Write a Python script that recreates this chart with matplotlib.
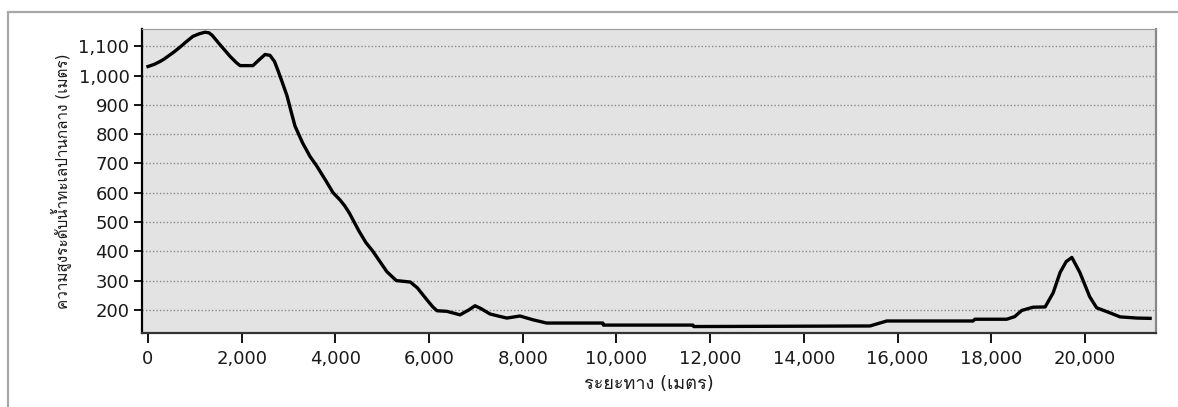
import matplotlib
matplotlib.use("Agg")
import matplotlib.pyplot as plt
from matplotlib import font_manager
from matplotlib.ticker import FuncFormatter, FixedLocator
from matplotlib.patches import Rectangle
from matplotlib.ft2font import FT2Font

# ---- data (distance in metres, elevation in metres) ----
distance = [0, 130, 256, 340, 427, 550, 683, 820, 960, 1100, 1217, 1300, 1366, 1550,
            1750, 1880, 1964, 2240, 2380, 2497, 2604, 2700, 2775, 2870,
            2967, 3050, 3137, 3300, 3458, 3607, 3800, 3950, 4100, 4200, 4300, 4400,
            4500, 4650, 4800, 4950, 5100, 5200, 5300, 5600, 5750,
            5950, 6080, 6170, 6380, 6660, 6850, 6980, 7100, 7300, 7500, 7660, 7940,
            8220, 8510, 9710, 9720,
            11630, 11650, 15410, 15600, 15770, 17610, 17650, 18330, 18500, 18650,
            18890, 19150, 19320, 19470, 19600, 19720, 19890, 20100, 20250, 20530,
            20750, 21110, 21390]
elevation = [1031, 1038, 1048, 1056, 1066, 1080, 1097, 1116, 1134, 1143, 1148, 1146, 1138,
             1103, 1066, 1045, 1034, 1034, 1055, 1072, 1069, 1048, 1017, 975,
             931, 880, 828, 770, 724, 690, 640, 600, 575, 555, 530, 500,
             470, 430, 400, 365, 330, 315, 300, 295, 275,
             235, 210, 197, 195, 183, 200, 214, 205, 186, 178, 172, 179,
             166, 155, 155, 148,
             148, 143, 145, 154, 162, 162, 168, 168, 177, 198,
             209, 210, 258, 328, 365, 379, 328, 245, 207, 190,
             176, 172, 171]

x_ticks = [0, 2000, 4000, 6000, 8000, 10000, 12000, 14000, 16000, 18000, 20000]
y_ticks = [200, 300, 400, 500, 600, 700, 800, 900, 1000, 1100]
x_label = "ระยะทาง (เมตร)"
y_label = "ความสูงระดับน้ำทะเลปานกลาง (เมตร)"

# ---- find a font with Thai glyphs ----
thai_family = None
for fe in font_manager.fontManager.ttflist:
    try:
        f = FT2Font(fe.fname)
        if f.get_char_index(ord("ร")) and f.get_char_index(ord("0")):
            thai_family = fe.name
            break
    except Exception:
        continue
fams = ["DejaVu Sans"]
if thai_family:
    fams = ["DejaVu Sans", thai_family]
plt.rcParams["font.family"] = fams

W, H = 1178, 407
fig = plt.figure(figsize=(W / 100, H / 100), dpi=100)
fig.patch.set_facecolor("white")

# outer frame (top and left visible)
fig.add_artist(Rectangle((7.5 / W, -0.05), 1.2, 1 - 12 / H + 0.05,
                         transform=fig.transFigure, fill=False,
                         edgecolor="#a8a8a8", linewidth=1.6))

left, right, top, bottom = 142, 1156, 29, 333
ax = fig.add_axes([left / W, 1 - bottom / H, (right - left) / W, (bottom - top) / H])
ax.set_facecolor("#e3e3e3")

ax.plot(distance, elevation, color="black", linewidth=2.4, solid_joinstyle="round")

ax.set_xlim(-128, 21516)
ax.set_ylim(121, 1159)
ax.xaxis.set_major_locator(FixedLocator(x_ticks))
ax.yaxis.set_major_locator(FixedLocator(y_ticks))
fmt = FuncFormatter(lambda v, p: f"{int(v):,}")
ax.xaxis.set_major_formatter(fmt)
ax.yaxis.set_major_formatter(fmt)

ax.grid(axis="y", linestyle=(0, (1, 1.5)), color="#8a8a8a", linewidth=1.0)
ax.set_axisbelow(True)

ax.tick_params(axis="both", direction="out", length=6, width=1.3, color="black",
               labelsize=13, labelcolor="#1a1a1a", pad=3)
ax.tick_params(axis="x", length=7, pad=5)

ax.spines["left"].set_color("black")
ax.spines["left"].set_linewidth(1.6)
ax.spines["bottom"].set_color("#333333")
ax.spines["bottom"].set_linewidth(1.6)
ax.spines["top"].set_color("#999999")
ax.spines["right"].set_color("#888888")
ax.spines["right"].set_linewidth(1.6)

ax.set_xlabel(x_label, fontsize=13, color="#1a1a1a", labelpad=5)
ax.set_ylabel(y_label, fontsize=11, color="#1a1a1a", labelpad=5)

fig.savefig("out.png", dpi=100)
